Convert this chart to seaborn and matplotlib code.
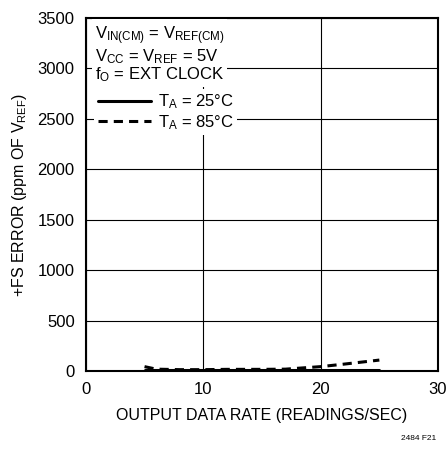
import matplotlib
matplotlib.use("Agg")
import matplotlib.pyplot as plt
import seaborn as sns
import pandas as pd
from matplotlib.lines import Line2D

# data
rate_25c = [5, 10, 15, 20, 25]
err_25c = [12, 12, 12, 12, 12]
rate_85c = [5, 6, 8, 10, 12, 15, 17, 20, 22, 25]
err_85c = [45, 20, 15, 15, 18, 18, 20, 45, 70, 110]

x_ticks = [0, 10, 20, 30]
y_ticks = [0, 500, 1000, 1500, 2000, 2500, 3000, 3500]

sns.set_style("white")
plt.rcParams['font.family'] = ['Liberation Sans Narrow', 'Liberation Sans', 'DejaVu Sans']
plt.rcParams['mathtext.default'] = 'regular'
plt.rcParams['text.color'] = 'black'
plt.rcParams['axes.labelcolor'] = 'black'

df = pd.concat([
    pd.DataFrame({"rate": rate_25c, "err": err_25c, "temp": "25"}),
    pd.DataFrame({"rate": rate_85c, "err": err_85c, "temp": "85"}),
])

fig = plt.figure(figsize=(4.47, 4.51), dpi=100)
ax = fig.add_axes([0.192, 0.177, 0.788, 0.783])

ax.set_xlim(0, 30)
ax.set_ylim(0, 3500)
ax.set_xticks(x_ticks)
ax.set_yticks(y_ticks)
ax.grid(True, color="black", linewidth=0.8)
ax.set_axisbelow(True)

sns.lineplot(data=df, x="rate", y="err", style="temp", color="black",
             linewidth=2.2, dashes={"25": "", "85": (3, 2)}, legend=False, ax=ax)

for s in ax.spines.values():
    s.set_linewidth(1.5)
    s.set_color("black")
ax.tick_params(direction="in", length=3, labelsize=12, colors="black", pad=8)

ax.set_xlabel("OUTPUT DATA RATE (READINGS/SEC)", fontsize=11.5, labelpad=8)
ax.set_ylabel("+FS ERROR (ppm OF V$_{REF}$)", fontsize=11.5, labelpad=6)

note = ("V$_{IN(CM)}$ = V$_{REF(CM)}$\n"
        "V$_{CC}$ = V$_{REF}$ = 5V\n"
        "f$_{O}$ = EXT CLOCK")
ax.text(0.025, 0.982, note, transform=ax.transAxes, fontsize=12, va="top", ha="left",
        linespacing=1.0, bbox=dict(facecolor="white", edgecolor="none", pad=2))

handles = [Line2D([], [], color="black", linewidth=2.2),
           Line2D([], [], color="black", linewidth=2.2, dashes=(3, 2))]
leg = ax.legend(handles, ["T$_{A}$ = 25°C", "T$_{A}$ = 85°C"], loc="upper left",
                bbox_to_anchor=(0.01, 0.812), frameon=True, fontsize=12,
                handlelength=3.2, handletextpad=0.4, borderpad=0.2, labelspacing=0.1,
                borderaxespad=0.3)
leg.get_frame().set_edgecolor("none")
leg.get_frame().set_facecolor("white")
leg.get_frame().set_alpha(1)

fig.text(0.975, 0.02, "2484 F21", fontsize=6, ha="right", va="bottom")

fig.savefig("out.png", dpi=100)
